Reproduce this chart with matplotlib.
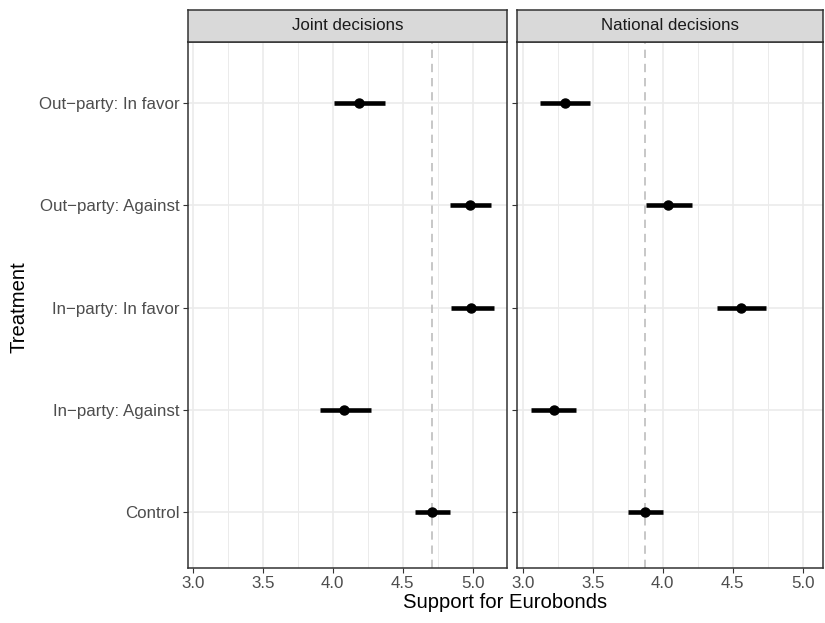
import numpy as np
import matplotlib.pyplot as plt

plt.rcParams["font.family"] = ["Liberation Sans", "DejaVu Sans"]

treatments = [
    "Control",
    "In\u2212party: Against",
    "In\u2212party: In favor",
    "Out\u2212party: Against",
    "Out\u2212party: In favor",
]
panels = ["Joint decisions", "National decisions"]

# estimate, lower and upper bound per treatment (same order as treatments)
joint_est = [4.71, 4.08, 4.99, 4.98, 4.19]
joint_lo = [4.59, 3.91, 4.845, 4.84, 4.01]
joint_hi = [4.84, 4.27, 5.15, 5.13, 4.37]

national_est = [3.87, 3.22, 4.56, 4.04, 3.30]
national_lo = [3.75, 3.06, 4.39, 3.88, 3.12]
national_hi = [4.00, 3.38, 4.74, 4.21, 3.48]

# control means used as reference lines
joint_ref = 4.712
national_ref = 3.874

W, H = 825, 623
fig = plt.figure(figsize=(W / 100, H / 100), dpi=100)


def box(x0, x1, y0, y1):
    return [x0 / W, 1 - y1 / H, (x1 - x0) / W, (y1 - y0) / H]


panel_boxes = [box(188, 507, 42, 568), box(517.3, 823, 42, 568)]
strip_boxes = [box(188, 507, 10, 42), box(517.3, 823, 10, 42)]
xlims = [(2.966, 5.245), (2.961, 5.145)]
data = [
    (joint_est, joint_lo, joint_hi, joint_ref),
    (national_est, national_lo, national_hi, national_ref),
]

ypos = np.arange(1, len(treatments) + 1)
edge = "#333333"

for i in range(2):
    ax = fig.add_axes(panel_boxes[i])
    est, lo, hi, ref = data[i]
    ax.set_xlim(*xlims[i])
    ax.set_ylim(0.452, 5.597)
    ax.set_xticks([3.0, 3.5, 4.0, 4.5, 5.0])
    ax.set_xticklabels(["3.0", "3.5", "4.0", "4.5", "5.0"])
    ax.set_xticks([3.25, 3.75, 4.25, 4.75], minor=True)
    ax.set_yticks(ypos)
    if i == 0:
        ax.set_yticklabels(treatments)
    else:
        ax.set_yticklabels([])
        ax.tick_params(axis="y", length=0)
    ax.grid(which="major", color="#EBEBEB", linewidth=1.2)
    ax.grid(which="minor", axis="x", color="#EBEBEB", linewidth=0.7)
    ax.set_axisbelow(True)
    ax.tick_params(axis="both", colors=edge, labelcolor="#4D4D4D",
                   labelsize=12.2, length=3.5, width=0.8, pad=2.5)
    ax.tick_params(which="minor", length=0)
    for s in ax.spines.values():
        s.set_color(edge)
        s.set_linewidth(1.1)

    ax.axvline(ref, color="#BDBDBD", linestyle=(0, (5, 3.5)), linewidth=1.2,
               zorder=1)
    ax.hlines(ypos, lo, hi, color="black", linewidth=3.3, zorder=3)
    ax.plot(est, ypos, "o", color="black", markersize=6.5, zorder=4)

    sx = fig.add_axes(strip_boxes[i])
    sx.set_facecolor("#D9D9D9")
    sx.set_xticks([])
    sx.set_yticks([])
    for s in sx.spines.values():
        s.set_color(edge)
        s.set_linewidth(1.1)
    sx.text(0.5, 0.5, panels[i], ha="center", va="center", fontsize=12.2,
            color="#1A1A1A", transform=sx.transAxes)

fig.text(505 / W, 1 - 602 / H, "Support for Eurobonds", ha="center",
         va="center", fontsize=14.6, color="black")
fig.text(19 / W, 1 - 307 / H, "Treatment", ha="center", va="center",
         rotation=90, fontsize=14.6, color="black")

fig.savefig("out.png", dpi=100, facecolor="white")
